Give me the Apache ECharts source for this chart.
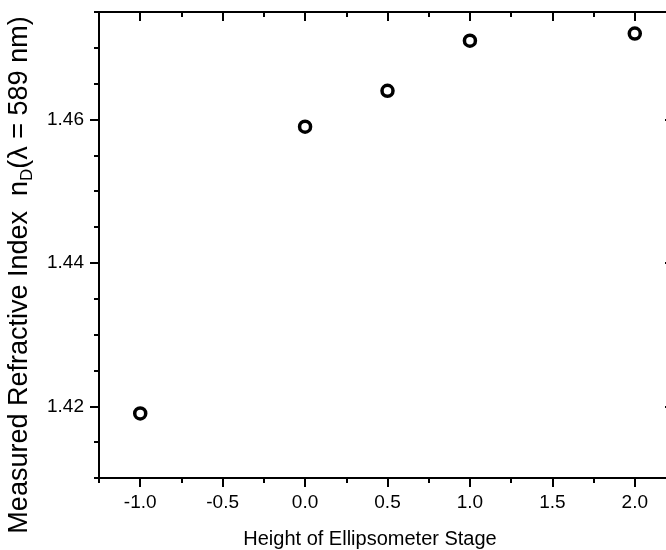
<!DOCTYPE html>
<html>
<head>
<meta charset="utf-8">
<script src="https://cdn.jsdelivr.net/npm/echarts@6/dist/echarts.min.js"></script>
<style>
  html, body { margin: 0; padding: 0; background: #fff; overflow: hidden; }
  #chart { width: 666px; height: 550px; }
</style>
</head>
<body>
<div id="chart"></div>
<script>
// Stage height vs. measured refractive index
const stageHeight = [-1.0, 0.0, 0.5, 1.0, 2.0];
const refractiveIndex = [1.419, 1.459, 1.464, 1.471, 1.472];

// Tick positions
const xMajorTicks = [-1.0, -0.5, 0.0, 0.5, 1.0, 1.5, 2.0];
const xMinorTicks = [-1.25, -0.75, -0.25, 0.25, 0.75, 1.25, 1.75, 2.25];
const yMajorTicks = [1.42, 1.44, 1.46];
const yMinorTicks = [1.41, 1.415, 1.425, 1.43, 1.435, 1.445, 1.45, 1.455, 1.465, 1.47, 1.475];

const X_MIN = -1.25, X_MAX = 2.25;
const Y_MIN = 1.41, Y_MAX = 1.475;

const FONT = '"Liberation Sans", Arial, sans-serif';
const INK = '#000';

function axisLineStyle(show) {
  return { show: show, onZero: false, lineStyle: { color: INK, width: 2 } };
}

function xAxisDef(position, ticks, len, inside, withLine, withLabels) {
  const a = {
    type: 'value', position: position, min: X_MIN, max: X_MAX,
    axisLine: axisLineStyle(withLine),
    axisTick: { show: true, customValues: ticks, length: len, inside: inside,
                lineStyle: { color: INK, width: 2 } },
    axisLabel: { show: false },
    splitLine: { show: false }
  };
  if (withLabels) {
    a.axisLabel = {
      show: true, customValues: xMajorTicks, margin: 15,
      fontFamily: FONT, fontSize: 19, color: INK,
      formatter: v => Number(v).toFixed(1)
    };
    a.name = 'Height of Ellipsometer Stage';
    a.nameLocation = 'middle';
    a.nameGap = 51;
    a.nameTextStyle = { fontFamily: FONT, fontSize: 20, color: INK, padding: [0, 35, 0, 0] };
  }
  return a;
}

function yAxisDef(position, ticks, len, inside, withLine, withLabels) {
  const a = {
    type: 'value', position: position, min: Y_MIN, max: Y_MAX,
    axisLine: axisLineStyle(withLine),
    axisTick: { show: true, customValues: ticks, length: len, inside: inside,
                lineStyle: { color: INK, width: 2 } },
    axisLabel: { show: false },
    splitLine: { show: false }
  };
  if (withLabels) {
    a.axisLabel = {
      show: true, customValues: yMajorTicks, margin: 15,
      fontFamily: FONT, fontSize: 19, color: INK,
      formatter: v => Number(v).toFixed(2)
    };
    a.name = '{t|Measured Refractive Index  n}{s|D}{t|(λ = 589 nm)}';
    a.nameLocation = 'middle';
    a.nameRotate = 90;
    a.nameGap = 62;
    a.nameTextStyle = {
      fontFamily: FONT, fontSize: 27, color: INK,
      padding: [0, 60, 0, 0],
      rich: {
        t: { fontFamily: FONT, fontSize: 27, color: INK, lineHeight: 34, verticalAlign: 'middle' },
        s: { fontFamily: FONT, fontSize: 17, color: INK, lineHeight: 17, verticalAlign: 'bottom' }
      }
    };
  }
  return a;
}

// The right-hand frame sits just past the visible edge; only the tips of
// its inward major ticks reach into view.
const rightMajor = yAxisDef('right', yMajorTicks, 11, true, false, false);

const chart = echarts.init(document.getElementById('chart'), null, { renderer: 'canvas' });
chart.setOption({
  animation: false,
  backgroundColor: '#fff',
  grid: { left: 99, top: 12, right: -10, bottom: 72, containLabel: false, outerBoundsMode: 'none' },
  xAxis: [
    xAxisDef('bottom', xMajorTicks, 9, false, true, true),
    xAxisDef('bottom', xMinorTicks, 5, false, false, false),
    xAxisDef('top', xMajorTicks, 9, true, true, false),
    xAxisDef('top', xMinorTicks, 5, true, false, false)
  ],
  yAxis: [
    yAxisDef('left', yMajorTicks, 9, false, true, true),
    yAxisDef('left', yMinorTicks, 5, false, false, false),
    rightMajor
  ],
  series: [{
    type: 'scatter',
    xAxisIndex: 0, yAxisIndex: 0,
    data: stageHeight.map((x, i) => [x, refractiveIndex[i]]),
    symbol: 'circle',
    symbolSize: 11,
    itemStyle: { color: '#fff', borderColor: INK, borderWidth: 3.5, opacity: 1 }
  }]
});
</script>
</body>
</html>
